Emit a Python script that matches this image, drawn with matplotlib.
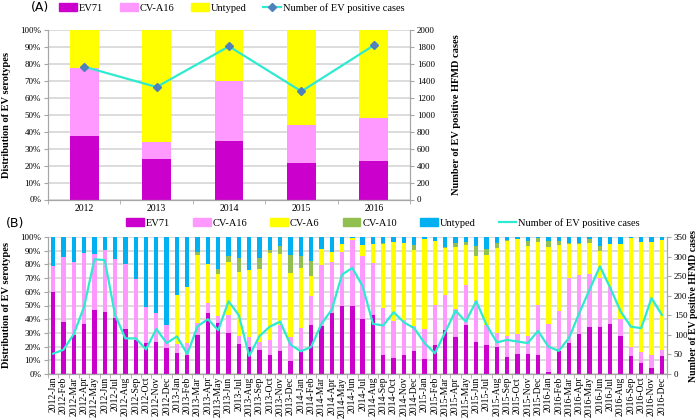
import matplotlib
matplotlib.use('Agg')
import matplotlib.pyplot as plt
from matplotlib.patches import Patch
from matplotlib.lines import Line2D
from matplotlib.ticker import FixedLocator, FuncFormatter

plt.rcParams['font.family'] = ['Liberation Serif', 'DejaVu Serif']

# ---------------- Panel A data (yearly) ----------------
years = ['2012', '2013', '2014', '2015', '2016']
a_ev71 = [37.4, 24.0, 34.4, 21.7, 22.8]
a_cva16 = [40.4, 10.0, 35.6, 22.4, 25.4]
a_untyped = [22.2, 66.0, 30.0, 55.9, 51.8]
a_cases = [1567, 1327, 1807, 1276, 1819]

# ---------------- Panel B data (monthly) ----------------
months = ['Jan', 'Feb', 'Mar', 'Apr', 'May', 'Jun',
          'Jul', 'Aug', 'Sep', 'Oct', 'Nov', 'Dec']
b_labels = [f'{y}-{m}' for y in years for m in months]

b_ev71 = [60.0, 38.0, 28.6, 36.8, 46.7, 45.5, 41.0, 33.0, 25.0, 22.5, 23.7, 19.0,
          15.6, 14.0, 28.6, 44.3, 37.5, 30.0, 21.8, 20.0, 17.7, 14.0, 16.5, 9.2,
          16.5, 35.8, 34.7, 44.5, 50.0, 50.0, 40.0, 43.0, 14.0, 11.5, 14.0, 16.9,
          11.0, 21.3, 31.8, 27.0, 35.5, 23.2, 21.3, 19.6, 12.7, 14.4, 14.4, 13.9,
          1.7, 16.9, 22.5, 29.0, 34.0, 34.2, 36.4, 27.4, 13.4, 7.8, 4.6, 13.4]
b_cva16 = [19.0, 47.5, 53.2, 51.6, 40.7, 45.3, 43.0, 47.6, 44.0, 26.5, 20.8, 17.0,
           6.4, 8.5, 8.4, 7.7, 4.9, 13.0, 6.2, 7.0, 5.8, 11.0, 19.3, 17.7,
           16.9, 21.1, 44.8, 37.2, 39.0, 47.5, 46.0, 37.7, 34.0, 27.5, 25.6, 17.8,
           21.8, 29.3, 26.2, 20.7, 29.5, 30.3, 14.7, 10.2, 14.7, 14.9, 13.0, 36.7,
           34.7, 29.1, 47.5, 43.6, 39.0, 36.0, 26.9, 12.9, 6.6, 8.6, 9.4, 4.2]
b_cva6 = [0, 0, 0, 0, 0, 0, 0, 0, 0, 0, 0, 0,
          36.0, 40.8, 50.0, 28.6, 30.5, 39.0, 46.3, 49.0, 53.5, 63.0, 51.6, 46.5,
          44.1, 14.8, 11.5, 7.3, 6.0, 1.5, 8.0, 14.3, 47.0, 57.5, 56.0, 55.8,
          65.5, 46.4, 33.7, 45.0, 29.0, 32.5, 50.8, 62.4, 69.6, 69.0, 66.0, 46.0,
          56.3, 48.0, 25.0, 22.0, 22.8, 19.5, 31.7, 54.7, 79.0, 80.2, 82.6, 80.0]
b_cva10 = [0, 0, 0, 0, 0, 0, 0, 0, 0, 0, 0, 0,
           0, 0, 2.0, 0, 3.4, 4.0, 10.5, 0, 7.7, 2.3, 5.8, 13.3,
           8.5, 10.6, 0, 0, 0, 0, 0, 0, 0.5, 0, 0, 3.4,
           0, 0, 1.0, 3.1, 2.6, 7.4, 4.2, 3.6, 0.6, 0, 3.6, 2.9,
           4.3, 3.0, 0.8, 1.2, 2.5, 3.7, 0, 0, 0, 0, 0, 0]
b_untyped = [21.0, 14.5, 18.2, 11.6, 12.6, 9.2, 16.0, 19.4, 31.0, 51.0, 55.5, 64.0,
             42.0, 36.7, 11.0, 19.4, 23.7, 14.0, 15.2, 24.0, 15.3, 9.7, 6.8, 13.3,
             14.0, 17.7, 9.0, 11.0, 5.0, 1.0, 6.0, 5.0, 4.5, 3.5, 4.4, 6.1,
             1.7, 3.0, 7.3, 4.2, 3.4, 6.6, 9.0, 4.2, 2.4, 1.7, 3.0, 0.5,
             3.0, 3.0, 4.2, 4.2, 1.7, 6.6, 5.0, 5.0, 1.0, 3.4, 3.4, 2.4]
b_cases = [52, 62, 102, 172, 293, 291, 151, 91, 91, 63, 115, 79,
           96, 51, 122, 140, 112, 186, 150, 46, 97, 121, 134, 75,
           58, 69, 128, 164, 254, 271, 224, 128, 124, 158, 132, 117,
           79, 53, 107, 162, 134, 186, 126, 81, 87, 83, 79, 110,
           70, 59, 92, 156, 216, 275, 220, 160, 121, 117, 194, 151]

# ---------------- Styles ----------------
C_EV71 = '#CC00CC'
C_A16 = '#FF99FF'
C_YEL = '#FFFF00'
C_A10 = '#92C050'
C_BLUE = '#00B0F0'
C_LINE = '#2EEAD0'
C_MARK = '#4F81BD'
GRID = '#D9D9D9'
SPINE = '#A6A6A6'

pct_fmt = FuncFormatter(lambda v, p: f'{int(round(v))}%')

fig = plt.figure(figsize=(7, 4.2), dpi=100)


def style_axes(ax, ax2):
    ax.set_ylim(0, 100)
    ax.yaxis.set_major_locator(FixedLocator(range(0, 101, 10)))
    ax.yaxis.set_major_formatter(pct_fmt)
    ax.grid(axis='y', color=GRID, lw=1.3)
    ax.set_axisbelow(True)
    ax.spines['top'].set_visible(False)
    ax2.spines['top'].set_visible(False)
    for s in ['left', 'bottom', 'right']:
        ax.spines[s].set_color(SPINE)
        ax2.spines[s].set_color(SPINE)
    ax.tick_params(axis='y', length=3, color=SPINE, labelsize=6.5, pad=2)
    ax2.tick_params(axis='y', length=3, color=SPINE, labelsize=6.5, pad=2)
    ax.tick_params(axis='x', which='major', length=0)
    ax.tick_params(axis='x', which='minor', length=3, color=SPINE)


# ---------------- Panel A ----------------
axA = fig.add_axes([48 / 700, 1 - 199.5 / 420, (410 - 48) / 700, (199.5 - 30) / 420])
xa = list(range(len(years)))
axA.bar(xa, a_ev71, width=0.4, color=C_EV71)
axA.bar(xa, a_cva16, width=0.4, bottom=a_ev71, color=C_A16)
botA = [a + b for a, b in zip(a_ev71, a_cva16)]
axA.bar(xa, a_untyped, width=0.4, bottom=botA, color=C_YEL)
axA.set_xlim(-0.5, len(years) - 0.5)
axA.set_xticks(xa)
axA.set_xticklabels(years, fontsize=7)
axA.set_xticks([i - 0.5 for i in range(len(years) + 1)], minor=True)
axA2 = axA.twinx()
axA2.plot(xa, a_cases, color=C_LINE, lw=1.6, marker='D', markersize=4.5,
          markerfacecolor=C_MARK, markeredgecolor=C_MARK, zorder=5)
axA2.set_ylim(0, 2000)
axA2.yaxis.set_major_locator(FixedLocator(range(0, 2001, 200)))
style_axes(axA, axA2)
axA.tick_params(axis='x', labelsize=7, pad=3)
axA.set_ylabel('Distribution of EV serotypes', fontsize=7.5, fontweight='bold')
axA.yaxis.set_label_coords((11 - 48) / 362, 0.5)
axA2.set_ylabel('Number of EV positive HFMD cases', fontsize=7.5, fontweight='bold')
axA2.yaxis.set_label_coords((452 - 48) / 362, 0.5)

hA = [Patch(color=C_EV71), Patch(color=C_A16), Patch(color=C_YEL),
      Line2D([], [], color=C_LINE, lw=1.6, marker='D', markersize=4.5,
             markerfacecolor=C_MARK, markeredgecolor=C_MARK)]
fig.legend(hA, ['EV71', 'CV-A16', 'Untyped', 'Number of EV positive cases'],
           ncol=4, loc='center', bbox_to_anchor=(232 / 700, 1 - 8 / 420),
           frameon=False, fontsize=7.5, handlelength=1.7, handleheight=0.8,
           handletextpad=0.2, columnspacing=1.6, borderpad=0)
fig.text(40 / 700, 1 - 8 / 420, '(A)', family='DejaVu Sans', fontsize=9,
         ha='center', va='center')

# ---------------- Panel B ----------------
axB = fig.add_axes([48 / 700, 1 - 374 / 420, (667 - 48) / 700, 137 / 420])
xb = list(range(len(b_labels)))
bottom = [0.0] * len(xb)
for vals, col in [(b_ev71, C_EV71), (b_cva16, C_A16), (b_cva6, C_YEL),
                  (b_cva10, C_A10), (b_untyped, C_BLUE)]:
    axB.bar(xb, vals, width=0.42, bottom=bottom, color=col)
    bottom = [b + v for b, v in zip(bottom, vals)]
axB.set_xlim(-0.5, len(xb) - 0.5)
axB.set_xticks(xb)
axB.set_xticklabels(b_labels, rotation=90, fontsize=7)
axB.set_xticks([i - 0.5 for i in range(len(xb) + 1)], minor=True)
axB2 = axB.twinx()
axB2.plot(xb, b_cases, color=C_LINE, lw=1.6, zorder=5)
axB2.set_ylim(0, 350)
axB2.yaxis.set_major_locator(FixedLocator(range(0, 351, 50)))
style_axes(axB, axB2)
axB.tick_params(axis='x', labelsize=7, pad=2)
axB.set_ylabel('Distribution of EV serotypes', fontsize=7.5, fontweight='bold')
axB.yaxis.set_label_coords((11 - 48) / 619, 0.5)
axB2.set_ylabel('Number of EV positive HFMD cases', fontsize=7, fontweight='bold')
axB2.yaxis.set_label_coords((689 - 48) / 619, 0.5)

hB = [Patch(color=C_EV71), Patch(color=C_A16), Patch(color=C_YEL),
      Patch(color=C_A10), Patch(color=C_BLUE),
      Line2D([], [], color=C_LINE, lw=1.6)]
fig.legend(hB, ['EV71', 'CV-A16', 'CV-A6', 'CV-A10', 'Untyped',
                'Number of EV positive cases'],
           ncol=6, loc='center', bbox_to_anchor=(383 / 700, 1 - 223 / 420),
           frameon=False, fontsize=7.5, handlelength=1.7, handleheight=0.8,
           handletextpad=0.2, columnspacing=2.2, borderpad=0)
fig.text(15 / 700, 1 - 223 / 420, '(B)', family='DejaVu Sans', fontsize=9,
         ha='center', va='center')

fig.savefig('out.png', dpi=100)
